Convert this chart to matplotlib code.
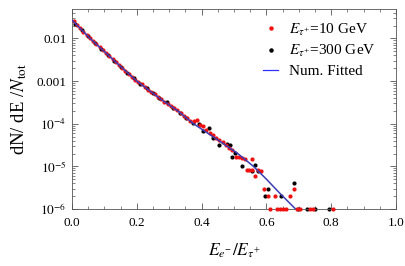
import matplotlib
matplotlib.use('Agg')
import numpy as np
import matplotlib.pyplot as plt
from matplotlib.ticker import FixedLocator, LogLocator, NullFormatter, MultipleLocator
from matplotlib.lines import Line2D

plt.rcParams['font.family'] = ['Liberation Serif', 'DejaVu Serif']
plt.rcParams['mathtext.fontset'] = 'stix'

# E_tau = 10 GeV (red), values stored as log10(dN/dE/Ntot)
red_x = [0.005, 0.015, 0.025, 0.035, 0.045, 0.055, 0.065, 0.075, 0.085, 0.095,
         0.105, 0.115, 0.125, 0.135, 0.145, 0.155, 0.165, 0.175, 0.185, 0.195,
         0.205, 0.215, 0.225, 0.235, 0.245, 0.255, 0.265, 0.275, 0.285, 0.295,
         0.305, 0.315, 0.325, 0.335, 0.345, 0.355, 0.365, 0.375, 0.385, 0.395,
         0.405, 0.415, 0.425, 0.435, 0.445, 0.455, 0.465, 0.475, 0.485, 0.495,
         0.505, 0.515, 0.525, 0.535, 0.540, 0.545, 0.555, 0.556, 0.565, 0.575,
         0.583, 0.594, 0.606, 0.627, 0.673, 0.685,
         0.611, 0.632, 0.642, 0.652, 0.662, 0.694, 0.704, 0.735, 0.745, 0.805]
red_log10 = [-1.58, -1.68, -1.76, -1.84, -1.91, -1.99, -2.07, -2.13, -2.21, -2.27,
             -2.35, -2.41, -2.49, -2.55, -2.62, -2.69, -2.76, -2.83, -2.90, -2.97,
             -3.03, -3.08, -3.14, -3.20, -3.26, -3.31, -3.37, -3.43, -3.48, -3.53,
             -3.59, -3.64, -3.69, -3.75, -3.81, -3.87, -3.93, -3.93, -3.91, -4.02,
             -4.06, -4.14, -4.22, -4.26, -4.33, -4.38, -4.42, -4.49, -4.57, -4.62,
             -4.77, -4.78, -4.80, -4.83, -5.08, -5.08, -4.82, -5.08, -5.22, -5.08,
             -5.12, -5.52, -5.70, -5.70, -5.70, -5.52,
             -6.0, -6.0, -6.0, -6.0, -6.0, -6.0, -6.0, -6.0, -6.0, -6.0]

# E_tau = 300 GeV (black)
black_x = [0.01, 0.03, 0.05, 0.07, 0.09, 0.11, 0.13, 0.15, 0.17, 0.19,
           0.21, 0.23, 0.25, 0.27, 0.292, 0.312, 0.333, 0.352, 0.372, 0.393,
           0.405, 0.424, 0.434, 0.455, 0.479, 0.488, 0.493, 0.503, 0.524, 0.555,
           0.565, 0.575, 0.596, 0.604, 0.645, 0.685, 0.698, 0.724, 0.750, 0.794]
black_log10 = [-1.65, -1.80, -1.95, -2.10, -2.24, -2.38, -2.52, -2.66, -2.80, -2.93,
               -3.06, -3.17, -3.29, -3.40, -3.50, -3.62, -3.76, -3.86, -3.98, -4.01,
               -4.18, -4.11, -4.34, -4.49, -4.47, -4.50, -4.77, -4.69, -5.00, -5.10,
               -4.96, -5.12, -5.70, -5.52, -5.70, -5.40, -6.0, -6.0, -6.0, -6.0]

# numerical fit
fit_x = [0.0, 0.03, 0.06, 0.12, 0.2, 0.27, 0.33, 0.375, 0.45, 0.51, 0.56, 0.6, 0.64, 0.69]
fit_log10 = [-1.57, -1.80, -2.03, -2.45, -3.0, -3.40, -3.72, -4.0, -4.38, -4.69, -5.0, -5.3, -5.62, -6.0]

red_y = 10.0 ** np.array(red_log10)
black_y = 10.0 ** np.array(black_log10)
fit_y = 10.0 ** np.array(fit_log10)

fig = plt.figure(figsize=(4.05, 2.66), dpi=100)
ax = fig.add_axes([72/405, 1-209/266, 324/405, 200/266])

ax.scatter(black_x, black_y, s=9, color='black', lw=0, zorder=2, clip_on=False)
ax.scatter(red_x, red_y, s=9, color='#f01010', lw=0, zorder=3, clip_on=False)
ax.plot(fit_x, fit_y, color='#3c3cb4', lw=1.1, zorder=4)

ax.set_yscale('log')
ax.set_xlim(0, 1.0)
ax.set_ylim(1e-6, 0.049)

ax.xaxis.set_major_locator(FixedLocator([0, 0.2, 0.4, 0.6, 0.8, 1.0]))
ax.xaxis.set_minor_locator(MultipleLocator(0.05))
ax.set_xticklabels(['0.0', '0.2', '0.4', '0.6', '0.8', '1.0'])
ax.yaxis.set_major_locator(FixedLocator([1e-2, 1e-3, 1e-4, 1e-5, 1e-6]))
ax.yaxis.set_minor_locator(LogLocator(base=10, subs=np.arange(2, 10)))
ax.yaxis.set_minor_formatter(NullFormatter())
ax.set_yticklabels(['0.01', '0.001', r'$10^{-4}$', r'$10^{-5}$', r'$10^{-6}$'])

ax.tick_params(which='both', direction='in', top=True, right=True, labelsize=9.5,
               color='#555555')
ax.tick_params(axis='x', which='major', pad=6)
ax.tick_params(axis='y', which='major', pad=4)
ax.tick_params(which='major', length=4, width=0.6)
ax.tick_params(which='minor', length=2, width=0.5)
for sp in ax.spines.values():
    sp.set_color('#555555')
    sp.set_linewidth(0.6)

ax.set_xlabel(r'$E_{e^{-}}/E_{\tau^{+}}$', fontsize=12.5, labelpad=9)
ax.set_ylabel(r'dN/ dE /$N_{\rm tot}$', fontsize=13.5, labelpad=5)

handles = [
    Line2D([], [], ls='none', marker='o', ms=3.2, color='#f01010', mew=0),
    Line2D([], [], ls='none', marker='o', ms=3.2, color='black', mew=0),
    Line2D([], [], color='#3030ff', lw=0.9),
]
labels = [r'$E_{\tau^{+}}$=10 GeV', r'$E_{\tau^{+}}$=300 GeV', 'Num. Fitted']
ax.legend(handles, labels, loc='upper right', frameon=False, fontsize=11,
          handlelength=1.0, handletextpad=0.7, labelspacing=0.35,
          bbox_to_anchor=(0.98, 1.005))

fig.savefig('out.png', dpi=100)
